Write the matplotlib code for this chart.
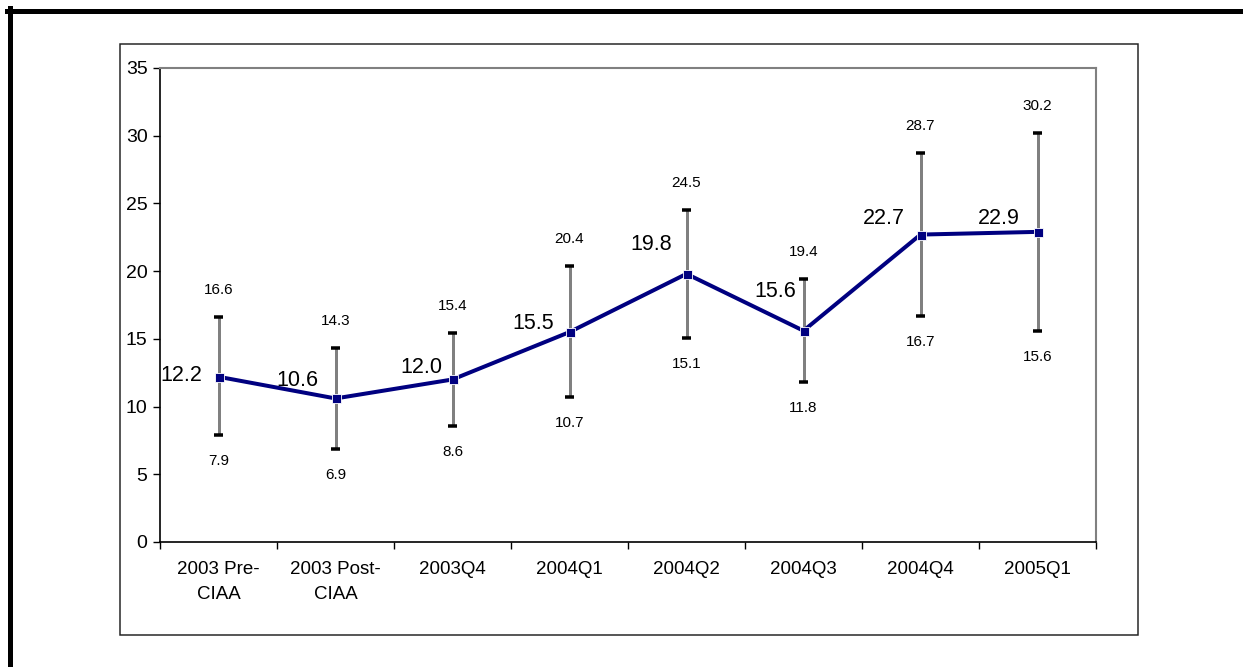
import numpy as np
import matplotlib
matplotlib.use("Agg")
import matplotlib.pyplot as plt
from matplotlib.lines import Line2D
from matplotlib.patches import Rectangle

plt.rcParams['font.family'] = ['Liberation Sans', 'DejaVu Sans']

# data
categories = ["2003 Pre-\nCIAA", "2003 Post-\nCIAA", "2003Q4", "2004Q1",
              "2004Q2", "2004Q3", "2004Q4", "2005Q1"]
values = [12.2, 10.6, 12.0, 15.5, 19.8, 15.6, 22.7, 22.9]
lower = [7.9, 6.9, 8.6, 10.7, 15.1, 11.8, 16.7, 15.6]
upper = [16.6, 14.3, 15.4, 20.4, 24.5, 19.4, 28.7, 30.2]

# value label offsets (pixels: right edge gap, raise above point)
lab_dx = [-16, -17, -10, -15, -14, -7, -16, -18]
lab_dy = [1, 18, 12, 9, 29, 39, 16, 13]

W, H = 1243, 667
fig = plt.figure(figsize=(W / 100, H / 100), dpi=100)
px = 72 / 100.0  # points per pixel

# outer frame (left + top thick lines) and inner chart box
fig.add_artist(Line2D([9.5 / W, 9.5 / W], [0, 1 - 8 / H], color="black",
                      lw=5 * px, transform=fig.transFigure))
fig.add_artist(Line2D([7 / W, 1], [1 - 10.5 / H, 1 - 10.5 / H], color="black",
                      lw=5 * px, transform=fig.transFigure))
fig.add_artist(Rectangle((120 / W, 1 - 635 / H), (1138 - 120) / W, (635 - 44) / H,
                         fill=False, edgecolor="#222222", lw=1.5 * px,
                         transform=fig.transFigure))

ax = fig.add_axes([160 / W, 1 - 542 / H, (1096 - 160) / W, (542 - 68) / H])

x = np.arange(len(categories))
v = np.array(values)
lo = np.array(lower)
up = np.array(upper)

# error bars: gray stem, black caps
ax.vlines(x, lo, up, color="#808080", lw=3 * px, zorder=2)
ax.hlines(lo, x - 0.036, x + 0.036, color="black", lw=3.5 * px, zorder=3)
ax.hlines(up, x - 0.036, x + 0.036, color="black", lw=3.5 * px, zorder=3)

ax.plot(x, v, color="#000080", lw=4 * px, marker="s", markersize=9 * px,
        markerfacecolor="#000080", markeredgecolor="white", markeredgewidth=0.6,
        zorder=4)

for i in range(len(x)):
    ax.annotate(f"{values[i]:.1f}", (x[i], v[i]), xytext=(lab_dx[i] * px, lab_dy[i] * px),
                textcoords="offset points", ha="right", va="center", fontsize=15.5)
    ax.annotate(f"{upper[i]:.1f}", (x[i], up[i]), xytext=(0, 27 * px),
                textcoords="offset points", ha="center", va="center", fontsize=11)
    ax.annotate(f"{lower[i]:.1f}", (x[i], lo[i]), xytext=(0, -26 * px),
                textcoords="offset points", ha="center", va="center", fontsize=11)

ax.set_xlim(-0.5, len(categories) - 0.5)
ax.set_ylim(0, 35)
ax.set_yticks(np.arange(0, 36, 5))
ax.set_xticks(np.arange(-0.5, len(categories), 1.0))
ax.set_xticklabels([])
ax.set_xticks(x, minor=True)
ax.set_xticklabels(categories, minor=True, fontsize=13.5, linespacing=1.55)
ax.tick_params(axis="x", which="minor", length=0, pad=14)
ax.tick_params(axis="x", which="major", length=5, width=1, direction="out")
ax.tick_params(axis="y", length=5, width=1, direction="out", labelsize=14, pad=4)

for s in ["top", "right"]:
    ax.spines[s].set_color("#808080")
    ax.spines[s].set_linewidth(1.5)
for s in ["left", "bottom"]:
    ax.spines[s].set_color("black")
    ax.spines[s].set_linewidth(1.2)

fig.savefig("out.png", dpi=100)
